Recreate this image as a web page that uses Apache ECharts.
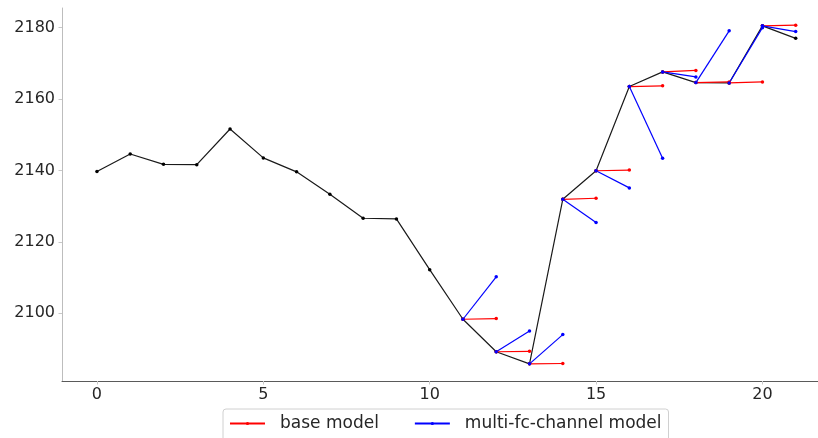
<!DOCTYPE html>
<html>
<head>
<meta charset="utf-8">
<script src="https://cdn.jsdelivr.net/npm/echarts@6/dist/echarts.min.js"></script>
<style>
  html, body { margin: 0; padding: 0; background: #ffffff; }
  #chart { width: 818px; height: 438px; }
</style>
</head>
<body>
<div id="chart"></div>
<script>
// Observed series, one value per step 0..21
const steps = [0,1,2,3,4,5,6,7,8,9,10,11,12,13,14,15,16,17,18,19,20,21];
const actual = [2139.7, 2144.6, 2141.7, 2141.6, 2151.6, 2143.5, 2139.6, 2133.3, 2126.6, 2126.4,
                2112.2, 2098.3, 2089.2, 2085.8, 2131.9, 2139.9, 2163.5, 2167.6, 2164.6, 2164.5,
                2180.5, 2177.0];

// One-step-ahead forecasts made at steps 11..20 (each lands on the following step)
const forecastFrom = [11, 12, 13, 14, 15, 16, 17, 18, 19, 20];
const baseForecast = [2098.5, 2089.3, 2085.9, 2132.2, 2140.1, 2163.7, 2168.0, 2164.8, 2164.8, 2180.7];
const multiForecast = [2110.2, 2095.0, 2094.0, 2125.4, 2135.1, 2143.4, 2166.2, 2179.1, 2180.0, 2178.9];

// Axis ticks
const xTicks = [0, 5, 10, 15, 20];
const yTicks = [2100, 2120, 2140, 2160, 2180];

const chart = echarts.init(document.getElementById('chart'), null, { renderer: 'canvas' });

const font = 'DejaVu Sans';
const textColor = '#262626';

function forecastSeries(name, color, values) {
  return forecastFrom.map((s, k) => ({
    name: name,
    type: 'line',
    data: [[s, actual[s]], [s + 1, values[k]]],
    symbol: 'circle',
    symbolSize: 3.5,
    showSymbol: true,
    itemStyle: { color: color },
    lineStyle: { color: color, width: 1.2 },
    animation: false,
    z: 3
  }));
}

const series = [{
  name: 'actual',
  type: 'line',
  data: steps.map((s, i) => [s, actual[i]]),
  symbol: 'circle',
  symbolSize: 3.5,
  itemStyle: { color: '#000000' },
  lineStyle: { color: '#1a1a1a', width: 1.2 },
  animation: false,
  z: 2
}].concat(
  forecastSeries('base model', '#ff0000', baseForecast),
  forecastSeries('multi-fc-channel model', '#0000ff', multiForecast)
);

chart.setOption({
  backgroundColor: '#ffffff',
  animation: false,
  // the plot area runs off the right edge of the canvas
  grid: { left: 62, top: 8, right: 0, height: 373, containLabel: false },
  xAxis: {
    type: 'value',
    min: -1.05,
    max: 21.67,
    splitLine: { show: false },
    axisLine: { show: true, onZero: false, lineStyle: { color: '#5a5a5a', width: 1 } },
    axisTick: { show: true, length: 3.5, customValues: xTicks, lineStyle: { color: '#c8c8c8' } },
    axisLabel: { customValues: xTicks, margin: 6, fontFamily: font, fontSize: 16, color: textColor }
  },
  yAxis: {
    type: 'value',
    min: 2081.0,
    max: 2185.5,
    splitLine: { show: false },
    axisLine: { show: true, onZero: false, lineStyle: { color: '#bdbdbd', width: 1 } },
    axisTick: { show: true, length: 3.5, customValues: yTicks, lineStyle: { color: '#c8c8c8' } },
    axisLabel: {
      customValues: yTicks, margin: 7, fontFamily: font, fontSize: 16, color: textColor,
      formatter: v => String(v)
    }
  },
  legend: {
    data: ['base model', 'multi-fc-channel model'],
    left: 223,
    top: 409,
    orient: 'horizontal',
    itemWidth: 35,
    itemHeight: 4,
    itemGap: 35,
    padding: [6, 7, 9, 6],
    backgroundColor: '#ffffff',
    borderColor: '#d0d0d0',
    borderWidth: 1,
    borderRadius: 3,
    selectedMode: false,
    textStyle: { fontFamily: font, fontSize: 17, color: textColor, padding: [0, 0, 0, 10] }
  },
  series: series
});
</script>
</body>
</html>
